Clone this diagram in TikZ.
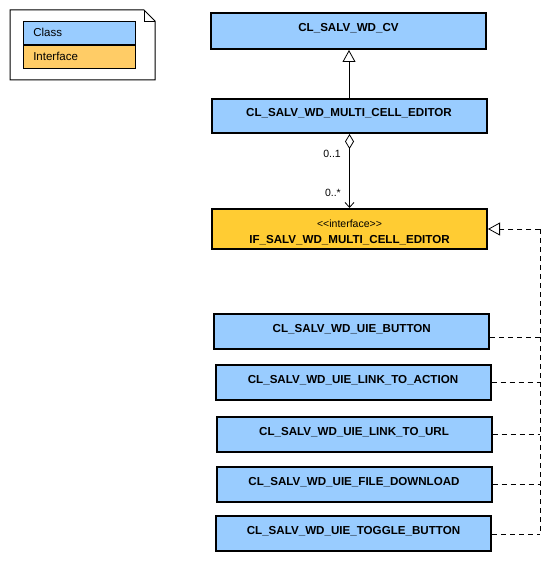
\documentclass[tikz,border=0pt]{standalone}
\usepackage{fontspec}
\setmainfont{Liberation Sans}
\usetikzlibrary{positioning,arrows.meta}
\definecolor{classblue}{HTML}{99CCFF}
\definecolor{ifaceorange}{HTML}{FFCC33}
\definecolor{legendorange}{HTML}{FFCC66}

\begin{document}
\begin{tikzpicture}[x=1pt, y=-1pt,
    every node/.style={font=\fontsize{11.5}{13}\selectfont, inner sep=0pt},
    umlbox/.style={draw, line width=2pt, minimum width=275pt,
        font=\fontsize{11.6}{15.5}\selectfont\bfseries},
    umlclass/.style={umlbox, fill=classblue, minimum height=35pt,
        text height=8.5pt, text depth=6.5pt},
    umliface/.style={umlbox, fill=ifaceorange, minimum height=40pt, align=center},
    legendrow/.style={draw, line width=1pt, minimum height=23pt,
        inner xsep=10pt, text width=92.5pt, align=left},
    generalize/.style={-{Triangle[open, length=12pt, width=13pt]}, line width=0.8pt},
    aggregate/.style={{Diamond[open, length=15pt, width=9pt]}-{Straight Barb[length=5pt, width=9pt]},
        line width=0.8pt},
    realize/.style={-{Triangle[open, length=12pt, width=13pt]}, busline},
    busline/.style={dash pattern=on 5pt off 4pt, line width=0.8pt},
    mult/.style={anchor=east, font=\fontsize{10.5}{12}\selectfont},
]
\useasboundingbox (0,0) rectangle (556,561);

% =====================================================================
% Legend note (top left)
% =====================================================================
\draw[line width=1pt, fill=white] (10,10) -- (144,10) -- (155,21) -- (155,80) -- (10,80) -- cycle;
\draw[line width=0.8pt] (144,10) -- (144,21) -- (155,21);
\node[legendrow, fill=classblue] (legclass) at (79.5,32.8) {Class};
\node[legendrow, fill=legendorange, below=0pt of legclass] (legiface) {Interface};

% =====================================================================
% Class hierarchy
% =====================================================================
\node[umlclass, minimum height=36pt] (cv) at (348.5,31) {CL\_SALV\_WD\_CV};
\node[umlclass, minimum height=34pt] (mce) at (349,116) {CL\_SALV\_WD\_MULTI\_CELL\_EDITOR};
\node[umliface] (iface) at (349.5,229)
    {\rule{0pt}{14pt}{\fontsize{10.5}{11}\mdseries\mbox{<}\mbox{<}interface\mbox{>}\mbox{>}}\\
     IF\_SALV\_WD\_MULTI\_CELL\_EDITOR};

\draw[generalize] (mce.north) -- (mce.north |- cv.south);
\draw[aggregate] (iface.north |- mce.south) -- (iface.north);
\node[mult] (multone) at (341,154) {0..1};
\node[mult] (multmany) at (341,192.5) {0..*};

% =====================================================================
% Implementing UI elements
% =====================================================================
\node[umlclass] (btn) at (351.8,331.4) {CL\_SALV\_WD\_UIE\_BUTTON};
\node[umlclass] (action) at (353,382.5) {CL\_SALV\_WD\_UIE\_LINK\_TO\_ACTION};
\node[umlclass] (url) at (354,434.3) {CL\_SALV\_WD\_UIE\_LINK\_TO\_URL};
\node[umlclass] (download) at (354,484.3) {CL\_SALV\_WD\_UIE\_FILE\_DOWNLOAD};
\node[umlclass] (toggle) at (353.5,533.3) {CL\_SALV\_WD\_UIE\_TOGGLE\_BUTTON};

% shared dashed bus on the right
\coordinate (bus) at (540.3,229);
\coordinate (btnport) at ([yshift=-6pt]btn.east);
\coordinate (toggleport) at ([yshift=-1pt]toggle.east);
\draw[realize] (bus) -- (iface.east);
\draw[busline] (bus) -- (bus |- toggleport);
\draw[busline] (btnport) -- (bus |- btnport);
\foreach \n in {action,url,download} {
    \draw[busline] (\n.east) -- (bus |- \n.east);
}
\draw[busline] (toggleport) -- (bus |- toggleport);

\end{tikzpicture}
\end{document}
